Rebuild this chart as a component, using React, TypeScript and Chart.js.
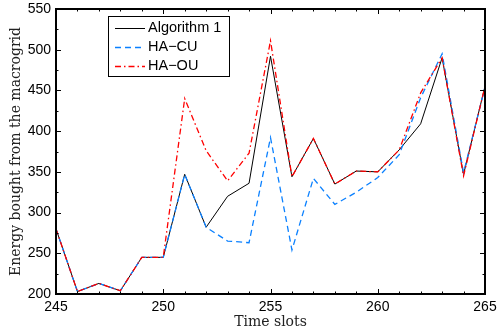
import React, { useEffect, useRef } from "react";
import { Chart, registerables } from "chart.js";

Chart.register(...registerables);

const timeSlots = [245, 246, 247, 248, 249, 250, 251, 252, 253, 254, 255, 256, 257, 258, 259, 260, 261, 262, 263, 264, 265];
const algorithm1 = [280, 203, 213, 204, 245, 245, 347, 282, 320, 336, 492, 344, 391, 335, 351, 350, 377, 409, 490, 347, 455];
const haCU = [280, 203, 213, 204, 245, 245, 347, 282, 265, 263, 392, 254, 342, 310, 325, 343, 371, 441, 495, 349, 454];
const haOU = [280, 203, 213, 204, 245, 245, 440, 376, 339, 373, 511, 344, 391, 335, 351, 350, 377, 447, 490, 345, 455];

const seriesNames = ["Algorithm 1", "HA\u2212CU", "HA\u2212OU"];
const xTitle = "Time slots";
const yTitle = "Energy bought from the macrogrid";
const xMin = 245, xMax = 265, xMajor = 5, xMinor = 1;
const yMin = 200, yMax = 550, yMajor = 50, yMinor = 25;

const SANS = "'Liberation Sans', Arial, sans-serif";
const SERIF = "'DejaVu Serif', serif";

const framePlugin = {
  id: "frame",
  afterDraw(chart: any) {
    const { ctx, chartArea } = chart;
    const { left, right, top, bottom } = chartArea;
    const xs = chart.scales.x;
    const ys = chart.scales.y;
    ctx.save();
    ctx.strokeStyle = "#000";
    ctx.lineWidth = 1;
    ctx.beginPath();
    for (let v = xMin; v <= xMax; v += xMinor) {
      const px = Math.round(xs.getPixelForValue(v)) + 0.5;
      const len = v % xMajor === 0 ? 5 : 2.5;
      ctx.moveTo(px, bottom); ctx.lineTo(px, bottom - len);
      ctx.moveTo(px, top); ctx.lineTo(px, top + len);
    }
    for (let v = yMin; v <= yMax; v += yMinor) {
      const py = Math.round(ys.getPixelForValue(v)) + 0.5;
      const len = v % yMajor === 0 ? 5 : 2.5;
      ctx.moveTo(left, py); ctx.lineTo(left + len, py);
      ctx.moveTo(right, py); ctx.lineTo(right - len, py);
    }
    ctx.stroke();
    ctx.lineWidth = 2;
    ctx.strokeRect(left, top, right - left, bottom - top);

    // legend
    const bx = 108, by = 16, bw = 121, bh = 60;
    ctx.fillStyle = "#fff";
    ctx.fillRect(bx, by, bw, bh);
    ctx.lineWidth = 1;
    ctx.strokeRect(bx + 0.5, by + 0.5, bw, bh);
    ctx.font = `14.5px ${SANS}`;
    ctx.textBaseline = "middle";
    ctx.textAlign = "left";
    chart.data.datasets.forEach((ds: any, i: number) => {
      const yy = by + 12 + i * 19;
      ctx.save();
      ctx.strokeStyle = ds.borderColor;
      ctx.lineWidth = ds.borderWidth;
      ctx.setLineDash(ds.borderDash || []);
      ctx.beginPath();
      ctx.moveTo(115, yy + 0.5);
      ctx.lineTo(145, yy + 0.5);
      ctx.stroke();
      ctx.restore();
      ctx.fillStyle = "#000";
      ctx.fillText(ds.label, 148, yy);
    });
    ctx.restore();
  },
};

export default function App() {
  const ref = useRef<HTMLCanvasElement>(null);
  useEffect(() => {
    const toPts = (arr: number[]) => timeSlots.map((t, i) => ({ x: t, y: arr[i] }));
    const chart = new Chart(ref.current!, {
      type: "line",
      data: {
        datasets: [
          { label: seriesNames[0], data: toPts(algorithm1), borderColor: "#000000", borderWidth: 1, pointRadius: 0, tension: 0, order: 3 },
          { label: seriesNames[1], data: toPts(haCU), borderColor: "#0a80ff", borderWidth: 1.3, borderDash: [6, 4], pointRadius: 0, tension: 0, order: 2 },
          { label: seriesNames[2], data: toPts(haOU), borderColor: "#ff0000", borderWidth: 1.3, borderDash: [6, 3, 1.5, 3], pointRadius: 0, tension: 0, order: 1 },
        ],
      },
      options: {
        responsive: false,
        animation: false,
        devicePixelRatio: 1,
        layout: { padding: { left: 0, right: 13, top: 9, bottom: 0 } },
        plugins: { legend: { display: false }, tooltip: { enabled: false } },
        scales: {
          x: {
            type: "linear",
            min: xMin,
            max: xMax,
            grid: { display: false, drawTicks: false },
            border: { display: false },
            ticks: { stepSize: xMajor, padding: 5, color: "#000", font: { family: SANS, size: 14 }, maxRotation: 0 },
            title: { display: true, text: xTitle, color: "#222", font: { family: SERIF, size: 14 }, padding: { top: 0, bottom: 2 } },
            afterFit: (s: any) => { s.height = 39; s.paddingLeft = 0; s.paddingRight = 0; },
          },
          y: {
            min: yMin,
            max: yMax,
            grid: { display: false, drawTicks: false },
            border: { display: false },
            ticks: { stepSize: yMajor, padding: 5, color: "#000", font: { family: SANS, size: 14 } },
            title: { display: true, text: yTitle, color: "#222", font: { family: SERIF, size: 14 }, padding: { top: 8, bottom: 0 } },
            afterFit: (s: any) => { s.width = 56; s.paddingTop = 0; s.paddingBottom = 0; },
          },
        },
      },
      plugins: [framePlugin],
    });
    return () => chart.destroy();
  }, []);
  return (
    <div style={{ position: "absolute", left: 0, top: 0, width: 498, height: 333, background: "#fff" }}>
      <canvas ref={ref} width={498} height={333} />
    </div>
  );
}
